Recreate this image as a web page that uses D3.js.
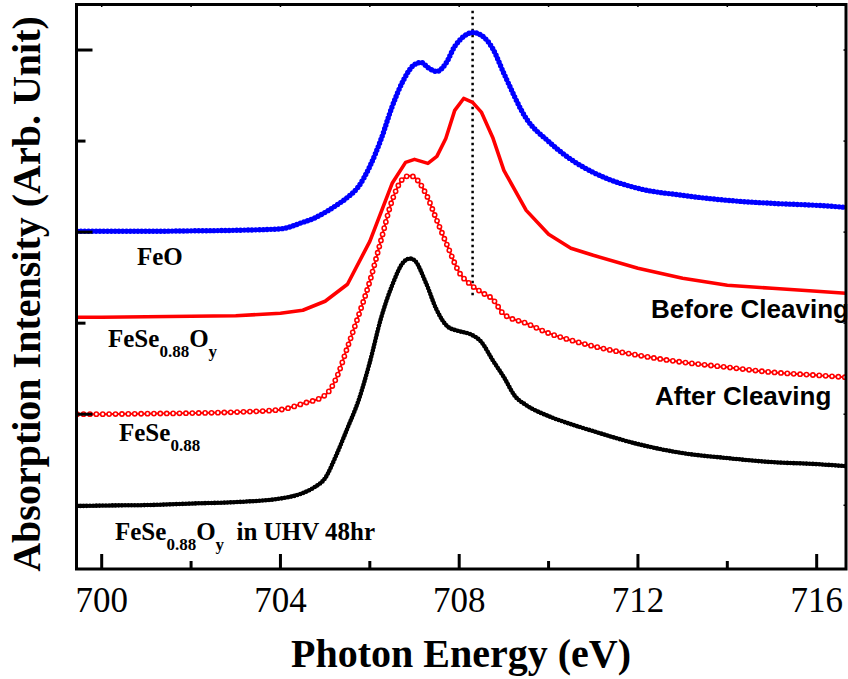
<!DOCTYPE html>
<html>
<head>
<meta charset="utf-8">
<script src="https://cdn.jsdelivr.net/npm/d3@7"></script>
<style>
  body { margin: 0; background: #fff; }
  svg { display: block; }
</style>
</head>
<body>
<div id="chart"></div>
<script>
// FeO reference (blue filled dots)
const feoE = [699.45, 700, 701, 702, 703, 704, 704.5, 704.75, 705, 705.25, 705.5, 705.75, 706, 706.25, 706.5, 706.75, 707, 707.15, 707.3, 707.5, 707.7, 707.9, 708.1, 708.3, 708.5, 708.75, 709, 709.5, 710, 710.5, 711, 712, 713, 714, 715, 716, 716.65];
const feoI = [30.09, 30.09, 30.09, 30.14, 30.20, 30.36, 31.08, 31.52, 32.17, 32.94, 33.82, 35.03, 37.22, 40.18, 43.80, 46.66, 48.41, 48.63, 48.08, 47.64, 48.52, 50.39, 51.49, 51.93, 51.60, 50.17, 47.43, 42.49, 39.96, 37.99, 36.56, 34.81, 34.04, 33.49, 33.16, 32.94, 32.72];

// FeSe0.88Oy before cleaving (red solid line)
const beforeE = [699.45, 700, 701, 702, 703, 704, 704.5, 705, 705.5, 706, 706.5, 706.8, 707, 707.3, 707.5, 707.7, 707.9, 708.1, 708.3, 708.5, 708.75, 709, 709.5, 710, 710.5, 711, 712, 713, 714, 715, 716, 716.65];
const beforeI = [20.65, 20.65, 20.71, 20.76, 20.82, 21.09, 21.42, 22.41, 24.27, 28.99, 35.36, 37.66, 37.99, 37.55, 38.32, 40.29, 43.37, 44.68, 44.25, 43.15, 40.40, 36.78, 32.39, 29.76, 28.22, 27.45, 26.03, 24.93, 24.16, 23.83, 23.50, 23.28];

// FeSe0.88 after cleaving (red open circles)
const afterE = [699.45, 700, 701, 702, 703, 704, 704.5, 705, 705.25, 705.5, 705.75, 706, 706.25, 706.5, 706.75, 706.9, 707, 707.25, 707.5, 707.75, 708, 708.25, 708.5, 708.75, 709, 709.5, 710, 710.5, 711, 712, 713, 714, 715, 716, 716.65];
const afterI = [10.01, 10.01, 10.06, 10.12, 10.23, 10.50, 11.17, 12.09, 13.96, 17.36, 20.87, 24.60, 29.10, 33.49, 35.90, 36.20, 36.01, 34.26, 31.29, 28.33, 25.58, 24.27, 23.39, 22.63, 20.98, 19.99, 18.90, 18.13, 17.47, 16.48, 15.71, 15.16, 14.61, 14.28, 14.06];

// FeSe0.88Oy in UHV 48hr (black dots)
const uhvE = [699.45, 700, 701, 702, 703, 704, 704.5, 704.75, 705, 705.25, 705.5, 705.75, 706, 706.25, 706.5, 706.75, 706.9, 707, 707.25, 707.5, 707.75, 708, 708.25, 708.5, 708.75, 709, 709.25, 709.5, 710, 710.5, 711, 712, 713, 714, 715, 716, 716.65];
const uhvI = [-0.09, -0.03, 0.02, 0.19, 0.35, 0.74, 1.34, 1.95, 2.98, 5.51, 8.47, 11.54, 15.71, 20.54, 24.16, 26.69, 27.10, 26.91, 24.49, 21.42, 19.59, 19.12, 18.79, 17.91, 15.93, 14.07, 11.98, 11.00, 9.79, 8.91, 8.14, 6.72, 5.73, 5.18, 4.74, 4.52, 4.30];

const xTicks = [700, 702, 704, 706, 708, 710, 712, 714, 716];
const xLabels = [700, 704, 708, 712, 716];
const yTicks = [0, 10, 20, 30, 40, 50];
const yMajor = [10, 30, 50];
const peakLine = { energy: 708.3, from: 22.8, to: 54.3 };

const W = 848, H = 679;
const mLeft = 76.5, mRight = 846, mTop = 4.5, mBottom = 569;

const svg = d3.select("#chart").append("svg")
    .attr("width", W)
    .attr("height", H);

const x = d3.scaleLinear().domain([699.436, 716.656]).range([mLeft, mRight]);
const y = d3.scaleLinear().domain([-7, 55]).range([mBottom, mTop]);

svg.append("clipPath").attr("id", "clip")
  .append("rect")
    .attr("x", mLeft).attr("y", mTop)
    .attr("width", mRight - mLeft).attr("height", mBottom - mTop);

const plot = svg.append("g").attr("clip-path", "url(#clip)");

function series(E, I) { return E.map((e, i) => ({ e: e, v: I[i] })); }

const smooth = d3.line().x(d => x(d.e)).y(d => y(d.v)).curve(d3.curveMonotoneX);
const straight = d3.line().x(d => x(d.e)).y(d => y(d.v));

// dotted peak marker
plot.append("line")
    .attr("x1", x(peakLine.energy)).attr("x2", x(peakLine.energy))
    .attr("y1", y(peakLine.to)).attr("y2", y(peakLine.from))
    .attr("stroke", "#000")
    .attr("stroke-width", 2.5)
    .attr("stroke-dasharray", "2.5 3.5");

// black: FeSe0.88Oy in UHV 48hr
const uhv = series(uhvE, uhvI);
plot.append("path").datum(uhv)
    .attr("d", smooth).attr("fill", "none")
    .attr("stroke", "#000").attr("stroke-width", 3.2);
plot.append("path").datum(uhv)
    .attr("d", smooth).attr("fill", "none")
    .attr("stroke", "#000").attr("stroke-width", 4.6)
    .attr("stroke-linecap", "round").attr("stroke-dasharray", "0 3.2");

// red open circles: after cleaving
const after = series(afterE, afterI);
plot.append("path").datum(after)
    .attr("d", smooth).attr("fill", "none")
    .attr("stroke", "#ff0000").attr("stroke-width", 2);
plot.append("path").datum(after)
    .attr("d", smooth).attr("fill", "none")
    .attr("stroke", "#ff0000").attr("stroke-width", 5.8)
    .attr("stroke-linecap", "round").attr("stroke-dasharray", "0 6.4");
plot.append("path").datum(after)
    .attr("d", smooth).attr("fill", "none")
    .attr("stroke", "#fff").attr("stroke-width", 2.6)
    .attr("stroke-linecap", "round").attr("stroke-dasharray", "0 6.4");

// red solid: before cleaving
plot.append("path").datum(series(beforeE, beforeI))
    .attr("d", straight).attr("fill", "none")
    .attr("stroke", "#ff0000").attr("stroke-width", 3.6)
    .attr("stroke-linejoin", "round");

// blue dots: FeO
const feo = series(feoE, feoI);
plot.append("path").datum(feo)
    .attr("d", smooth).attr("fill", "none")
    .attr("stroke", "#0000ff").attr("stroke-width", 3.2);
plot.append("path").datum(feo)
    .attr("d", smooth).attr("fill", "none")
    .attr("stroke", "#0000ff").attr("stroke-width", 5.4)
    .attr("stroke-linecap", "round").attr("stroke-dasharray", "0 3.8");

// frame
svg.append("rect")
    .attr("x", mLeft).attr("y", mTop)
    .attr("width", mRight - mLeft).attr("height", mBottom - mTop)
    .attr("fill", "none").attr("stroke", "#000").attr("stroke-width", 3);

// x ticks (inward)
svg.append("g").selectAll("line").data(xTicks).enter().append("line")
    .attr("x1", d => x(d)).attr("x2", d => x(d))
    .attr("y1", mBottom)
    .attr("y2", d => mBottom - (xLabels.includes(d) ? 15 : 8))
    .attr("stroke", "#000").attr("stroke-width", 3);

svg.append("g").selectAll("line").data(xTicks).enter().append("line")
    .attr("x1", d => x(d)).attr("x2", d => x(d))
    .attr("y1", mTop).attr("y2", mTop + 2.5)
    .attr("stroke", "#000").attr("stroke-width", 1.5);

svg.append("g")
    .attr("font-family", "'Liberation Serif', 'Times New Roman', serif")
    .attr("font-size", 35)
    .selectAll("text").data(xLabels).enter().append("text")
    .attr("x", d => x(d))
    .attr("y", 612)
    .attr("text-anchor", "middle")
    .text(d => d);

// y ticks (inward, no labels)
svg.append("g").selectAll("line").data(yTicks).enter().append("line")
    .attr("x1", mLeft)
    .attr("x2", d => mLeft + (yMajor.includes(d) ? 16 : 9))
    .attr("y1", d => y(d)).attr("y2", d => y(d))
    .attr("stroke", "#000").attr("stroke-width", 3);

svg.append("g").selectAll("line").data(yTicks).enter().append("line")
    .attr("x1", mRight).attr("x2", mRight - 2.5)
    .attr("y1", d => y(d)).attr("y2", d => y(d))
    .attr("stroke", "#000").attr("stroke-width", 1.5);

// axis titles
const serif = "'Liberation Serif', 'Times New Roman', serif";
svg.append("text")
    .attr("x", 461).attr("y", 667)
    .attr("text-anchor", "middle")
    .attr("font-family", serif)
    .attr("font-weight", "bold")
    .attr("font-size", 40)
    .text("Photon Energy (eV)");

svg.append("text")
    .attr("transform", "translate(40,294) rotate(-90)")
    .attr("text-anchor", "middle")
    .attr("font-family", serif)
    .attr("font-weight", "bold")
    .attr("font-size", 40)
    .text("Absorption Intensity (Arb. Unit)");

// curve labels
function chem(px, py, parts) {
    const t = svg.append("text")
        .attr("x", px).attr("y", py)
        .attr("font-family", serif)
        .attr("font-weight", "bold")
        .attr("font-size", 25);
    let shift = 0;
    parts.forEach(p => {
        const dy = (p.sub ? 10 : 0) - shift;
        shift = p.sub ? 10 : 0;
        t.append("tspan")
            .attr("dy", dy)
            .attr("font-size", p.sub ? 17 : 25)
            .attr("xml:space", "preserve")
            .text(p.s);
    });
}

chem(137, 265, [{ s: "FeO" }]);
chem(108, 347, [{ s: "FeSe" }, { s: "0.88", sub: true }, { s: "O" }, { s: "y", sub: true }]);
chem(119, 441, [{ s: "FeSe" }, { s: "0.88", sub: true }]);
chem(115, 540, [{ s: "FeSe" }, { s: "0.88", sub: true }, { s: "O" }, { s: "y", sub: true }, { s: "\u00a0 in UHV 48hr" }]);

const sans = "'Liberation Sans', Arial, sans-serif";
svg.append("text")
    .attr("x", 651).attr("y", 318)
    .attr("font-family", sans).attr("font-weight", "bold").attr("font-size", 26)
    .text("Before Cleaving");
svg.append("text")
    .attr("x", 655).attr("y", 405)
    .attr("font-family", sans).attr("font-weight", "bold").attr("font-size", 26)
    .text("After Cleaving");
</script>
</body>
</html>
